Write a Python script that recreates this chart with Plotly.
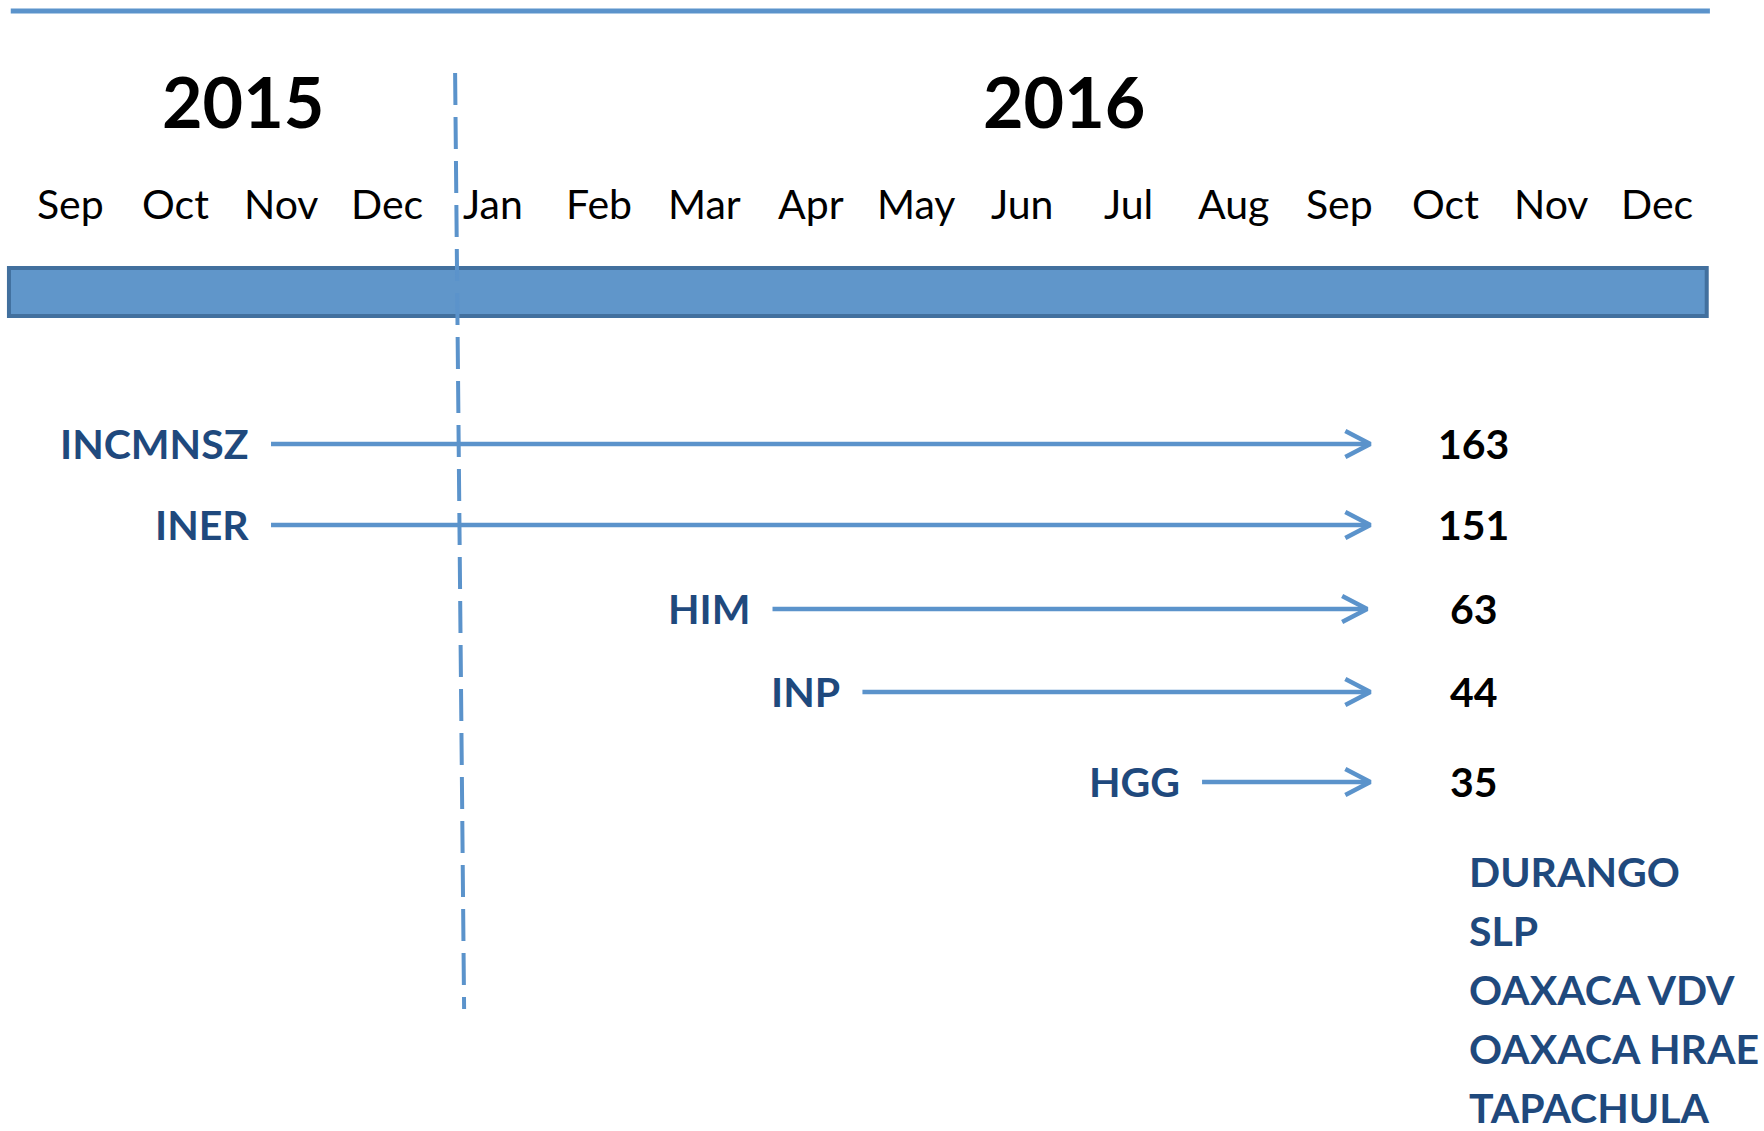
import plotly.graph_objects as go

# ---------------- data ----------------
months = ["Sep", "Oct", "Nov", "Dec", "Jan", "Feb", "Mar", "Apr",
          "May", "Jun", "Jul", "Aug", "Sep", "Oct", "Nov", "Dec"]
month_years = ["2015"] * 4 + ["2016"] * 12
years = ["2015", "2016"]
sites = ["INCMNSZ", "INER", "HIM", "INP", "HGG"]
site_start = [1.90, 1.90, 6.64, 7.49, 10.70]      # months since Sep 2015
site_end = [12.29, 12.29, 12.26, 12.29, 12.29]
site_counts = [163, 151, 63, 44, 35]
pending_sites = ["DURANGO", "SLP", "OAXACA VDV", "OAXACA HRAE", "TAPACHULA"]

# ---------------- layout / style ----------------
W, H = 1764, 1131
PX0, PXS = 70.0, 105.8          # pixel of first month, pixels per month
XR = [-PX0 / PXS, (W - PX0) / PXS]
ROW_Y = [444, 525, 609, 692, 782]
LIST_Y0, LIST_DY = 871, 59
MONTH_Y, YEAR_Y = 203, 101
YEAR_XSHIFT = [14, -11]
VALUE_X = 13.27
LIST_X = 13.20

LINE = "#5B93CB"
BAR_FILL = "#6096CA"
BAR_EDGE = "#42709E"
TEXT_BLUE = "#1F497D"
FONT = "Lato"

mx = list(range(len(months)))

fig = go.Figure()

# timeline bar
fig.add_shape(type="rect", xref="x", yref="y",
              x0=mx[0] - 0.577, x1=mx[-1] + 0.47, y0=268, y1=316,
              fillcolor=BAR_FILL, line=dict(color=BAR_EDGE, width=4), layer="below")
# top rule
fig.add_shape(type="line", xref="x", yref="y",
              x0=mx[0] - 0.56, x1=mx[-1] + 0.50, y0=11, y1=11,
              line=dict(color=LINE, width=5), layer="below")

# year separator (dashed)
sep = month_years.index("2016") - 0.36
fig.add_trace(go.Scatter(x=[sep, sep + 0.085], y=[73, 1009], mode="lines",
                         line=dict(color=LINE, width=4, dash="32px,12px"),
                         hoverinfo="skip", showlegend=False))

# arrows
sx, sy, cx, cy = [], [], [], []
for s, e, y in zip(site_start, site_end, ROW_Y):
    sx += [s, e - 0.03, None]
    sy += [y, y, None]
    cx += [e - 0.236, e, e - 0.236, None]
    cy += [y - 13, y, y + 13, None]
fig.add_trace(go.Scatter(x=sx, y=sy, mode="lines",
                         line=dict(color=LINE, width=4.5),
                         hoverinfo="skip", showlegend=False))
fig.add_trace(go.Scatter(x=cx, y=cy, mode="lines",
                         line=dict(color=LINE, width=4.5),
                         hoverinfo="skip", showlegend=False))

ann = []
# month labels
for i, m in zip(mx, months):
    ann.append(dict(x=i, y=MONTH_Y, text=m, showarrow=False, xanchor="center", yanchor="middle",
                    font=dict(family=FONT, size=41, color="black")))
# year labels
for yr, xs in zip(years, YEAR_XSHIFT):
    idx = [i for i, y in zip(mx, month_years) if y == yr]
    ann.append(dict(x=sum(idx) / len(idx), y=YEAR_Y, text="<b>%s</b>" % yr, showarrow=False,
                    xanchor="center", yanchor="middle", xshift=xs,
                    font=dict(family=FONT, size=70, color="black")))
# site labels & counts
for name, s, c, y in zip(sites, site_start, site_counts, ROW_Y):
    ann.append(dict(x=s, y=y, text="<b>%s</b>" % name, showarrow=False, xanchor="right",
                    yanchor="middle", xshift=-20, yshift=1,
                    font=dict(family=FONT, size=41, color=TEXT_BLUE)))
    ann.append(dict(x=VALUE_X, y=y, text="<b>%d</b>" % c, showarrow=False, xanchor="center",
                    yanchor="middle", yshift=1,
                    font=dict(family=FONT, size=41, color="black")))
# pending sites list
for k, name in enumerate(pending_sites):
    ann.append(dict(x=LIST_X, y=LIST_Y0 + k * LIST_DY, text="<b>%s</b>" % name, showarrow=False,
                    xanchor="left", yanchor="middle",
                    font=dict(family=FONT, size=41, color=TEXT_BLUE)))

fig.update_layout(
    width=W, height=H, margin=dict(l=0, r=0, t=0, b=0),
    paper_bgcolor="white", plot_bgcolor="white",
    xaxis=dict(range=XR, visible=False, fixedrange=True),
    yaxis=dict(range=[H, 0], visible=False, fixedrange=True),
    annotations=ann, showlegend=False, hovermode=False,
)

fig.write_html("out.html", post_script="document.body.style.margin='0';",
               config={"displayModeBar": False})
